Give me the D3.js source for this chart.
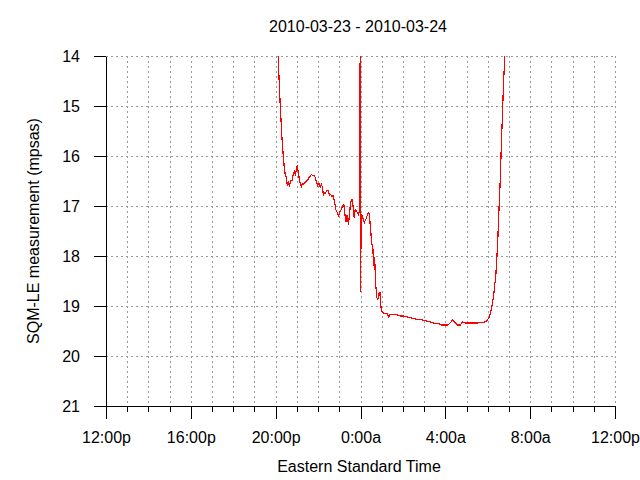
<!DOCTYPE html>
<html>
<head>
<meta charset="utf-8">
<script src="https://cdn.jsdelivr.net/npm/d3@7"></script>
<style>
  html, body { margin: 0; padding: 0; background: #fff; }
  svg { display: block; font-family: "Liberation Sans", Arial, sans-serif; }
</style>
</head>
<body>
<svg id="chart" width="640" height="480"></svg>
<script>
// ---- data ----
const chartTitle = "2010-03-23 - 2010-03-24";
const xTitle = "Eastern Standard Time";
const yTitle = "SQM-LE measurement (mpsas)";

const times = [
  "20:07","20:10","20:13","20:16","20:19","20:22","20:24","20:27","20:30","20:33",
  "20:36","20:39","20:42","20:46","20:50","20:53","20:56","20:59","21:01","21:04",
  "21:07","21:10","21:13","21:15","21:19","21:22","21:26","21:30","21:33","21:37",
  "21:41","21:45","21:48","21:52","21:56","21:59","22:03","22:06","22:10","22:13",
  "22:15","22:18","22:21","22:24","22:29","22:32","22:36","22:39","22:42","22:45",
  "22:48","22:50","22:54","22:58","23:02","23:06","23:09","23:13","23:16","23:19",
  "23:22","23:26","23:28","23:32","23:36","23:39","23:42","23:45","23:49","23:54",
  "23:57","23:59","23:59",
  "00:03","00:08","00:11","00:15","00:18","00:22","00:25","00:28","00:32","00:35",
  "00:37","00:40","00:43","00:46","00:49","00:52","00:55","00:57","01:00","01:04",
  "01:12","01:16","01:20","01:22","01:42","01:52","02:01","02:12","02:25","02:34",
  "02:48","03:01","03:17","03:26","03:45","03:50","04:08","04:13","04:21","04:27",
  "04:34","04:42","04:49","04:56","05:10","05:29","05:47","05:57","06:04","06:08",
  "06:12","06:16","06:19","06:23","06:25","06:28","06:30","06:33","06:36","06:38",
  "06:41","06:44","06:47","06:48"
];
const values = [
  14.00,14.53,15.00,15.40,15.78,16.03,16.21,16.37,16.43,16.59,
  16.51,16.61,16.49,16.49,16.37,16.31,16.39,16.23,16.21,16.31,
  16.47,16.57,16.61,16.55,16.57,16.53,16.51,16.49,16.45,16.41,
  16.37,16.39,16.39,16.43,16.53,16.59,16.55,16.63,16.57,16.65,
  16.79,16.73,16.75,16.69,16.69,16.79,16.77,16.81,16.79,16.87,
  16.97,17.07,17.13,17.19,17.11,17.07,17.01,16.97,17.17,17.31,
  17.19,17.37,17.23,16.93,16.87,17.01,17.23,17.07,17.11,17.17,
  17.11,14.00,18.72,
  17.17,17.27,17.33,17.27,17.21,17.13,17.15,17.43,17.75,17.85,
  18.19,18.03,18.57,18.83,18.87,18.75,18.73,18.97,19.11,19.14,
  19.15,19.16,19.23,19.17,19.17,19.20,19.20,19.22,19.24,19.26,
  19.27,19.29,19.32,19.34,19.36,19.38,19.38,19.34,19.28,19.33,
  19.38,19.38,19.32,19.34,19.34,19.34,19.33,19.30,19.23,19.13,
  18.99,18.83,18.63,18.37,18.13,17.77,17.37,16.87,16.37,15.87,
  15.28,14.68,14.18,14.00
];

const yTicks = [14, 15, 16, 17, 18, 19, 20, 21];
const xTickLabels = ["12:00p","16:00p","20:00p","0:00a","4:00a","8:00a","12:00p"];

// ---- helpers ----
function toDate(t) {
  const [h, m] = t.split(":").map(Number);
  const day = h >= 12 ? 23 : 24;
  return new Date(2010, 2, day, h, m);
}
const data = times.map((t, i) => ({ t: toDate(t), v: values[i] }));

const tStart = new Date(2010, 2, 23, 12, 0);
const tEnd = new Date(2010, 2, 24, 12, 0);

const svg = d3.select("#chart");
const pLeft = 106, pRight = 615, pTop = 56, pBottom = 406;

const x = d3.scaleTime().domain([tStart, tEnd]).range([pLeft, pRight]);
const y = d3.scaleLinear().domain([14, 21]).range([pTop, pBottom]);

const hourTicks = d3.timeHour.every(1).range(tStart, new Date(+tEnd + 1));
const majorTicks = d3.timeHour.every(4).range(tStart, new Date(+tEnd + 1));

// ---- grid ----
const grid = svg.append("g")
  .attr("stroke", "#999")
  .attr("stroke-width", 1)
  .attr("stroke-dasharray", "2,3")
  .attr("shape-rendering", "crispEdges");

grid.selectAll("line.h")
  .data(yTicks.filter(v => v < 21))
  .join("line")
  .attr("class", "h")
  .attr("x1", pLeft).attr("x2", pRight)
  .attr("y1", d => Math.round(y(d)) + 0.5)
  .attr("y2", d => Math.round(y(d)) + 0.5);

grid.selectAll("line.v")
  .data(hourTicks.slice(1))
  .join("line")
  .attr("class", "v")
  .attr("x1", d => Math.round(x(d)) + 0.5)
  .attr("x2", d => Math.round(x(d)) + 0.5)
  .attr("y1", pTop).attr("y2", pBottom);

// ---- data line ----
svg.append("defs").append("clipPath").attr("id", "clip")
  .append("rect").attr("x", pLeft).attr("y", pTop)
  .attr("width", pRight - pLeft).attr("height", pBottom - pTop);

const line = d3.line().x(d => x(d.t)).y(d => y(d.v));
svg.append("path")
  .datum(data)
  .attr("clip-path", "url(#clip)")
  .attr("fill", "none")
  .attr("stroke", "#ff0000")
  .attr("stroke-width", 1.2)
  .attr("stroke-linejoin", "miter")
  .attr("shape-rendering", "crispEdges")
  .attr("d", line);

// ---- axes ----
const yAxis = d3.axisLeft(y)
  .tickValues(yTicks)
  .tickFormat(d3.format("d"))
  .tickSizeInner(12)
  .tickSizeOuter(0)
  .tickPadding(14);
const gy = svg.append("g")
  .attr("transform", `translate(${pLeft},0)`)
  .call(yAxis);
gy.selectAll("text")
  .attr("font-size", 16)
  .attr("font-family", "Liberation Sans, Arial, sans-serif")
  .attr("fill", "#000")
  .attr("dy", "0.36em");

const xMinor = d3.axisBottom(x)
  .tickValues(hourTicks)
  .tickFormat("")
  .tickSizeInner(6)
  .tickSizeOuter(0);
svg.append("g")
  .attr("transform", `translate(0,${pBottom})`)
  .call(xMinor);

const xAxis = d3.axisBottom(x)
  .tickValues(majorTicks)
  .tickFormat((d, i) => xTickLabels[i])
  .tickSizeInner(13)
  .tickSizeOuter(0)
  .tickPadding(12);
const gx = svg.append("g")
  .attr("transform", `translate(0,${pBottom})`)
  .call(xAxis);
gx.selectAll("text")
  .attr("font-size", 16)
  .attr("font-family", "Liberation Sans, Arial, sans-serif")
  .attr("fill", "#000")
  .attr("y", 37)
  .attr("dy", 0);

svg.selectAll(".domain, .tick line").attr("stroke", "#000").attr("shape-rendering", "crispEdges");

// ---- titles ----
svg.append("text")
  .attr("x", 358).attr("y", 32)
  .attr("text-anchor", "middle")
  .attr("font-size", 16)
  .text(chartTitle);

svg.append("text")
  .attr("x", 359).attr("y", 472)
  .attr("text-anchor", "middle")
  .attr("font-size", 16)
  .text(xTitle);

svg.append("text")
  .attr("transform", "translate(39,231) rotate(-90)")
  .attr("text-anchor", "middle")
  .attr("font-size", 16)
  .text(yTitle);
</script>
</body>
</html>
